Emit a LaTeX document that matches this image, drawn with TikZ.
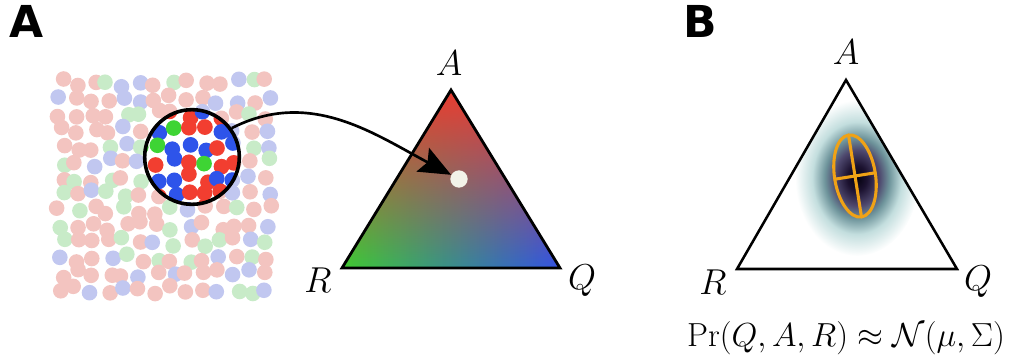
\RequirePackage{fix-cm}
\documentclass[tikz,border=0pt]{standalone}
\usepackage{amsmath}
\usepackage{amssymb}
\usepackage{fontspec}
\newfontfamily\panelfont{DejaVu Sans}
\usetikzlibrary{arrows.meta,fadings}

\definecolor{paleR}{RGB}{243,196,192}
\definecolor{paleB}{RGB}{193,199,240}
\definecolor{paleG}{RGB}{200,235,200}
\definecolor{fullR}{RGB}{242,62,48}
\definecolor{fullB}{RGB}{46,84,234}
\definecolor{fullG}{RGB}{62,212,52}
\definecolor{vertR}{RGB}{235,60,48}
\definecolor{vertG}{RGB}{62,204,50}
\definecolor{vertB}{RGB}{50,82,230}
\definecolor{mixdot}{RGB}{242,242,232}
\definecolor{covorange}{RGB}{240,162,22}
\definecolor{blobA}{RGB}{4,2,14}
\definecolor{blobB}{RGB}{28,18,48}
\definecolor{blobC}{RGB}{78,72,110}
\definecolor{blobD}{RGB}{110,148,155}
\definecolor{blobE}{RGB}{195,222,222}

\tikzfading[name=redfade, top color=transparent!0, bottom color=transparent!100]
\pgfdeclareradialshading{gaussblob}{\pgfpointorigin}{%
  color(0bp)=(blobA); color(4bp)=(blobB); color(9bp)=(blobC);
  color(13bp)=(blobD); color(18bp)=(blobE); color(25bp)=(white); color(50bp)=(white)}

% one jittered cloud of dots, #1 = pale or full
\newcommand\dotcloud[1]{%
  \pgfmathsetseed{31}%
  \foreach \i in {0,...,13}{%
    \foreach \j in {0,...,13}{%
      \pgfmathsetmacro\dx{61+15.9*\i+4.5*rand}%
      \pgfmathsetmacro\dy{83+15.9*\j+4.5*rand}%
      \pgfmathsetmacro\pick{rnd}%
      \ifdim\pick pt<0.48pt \def\dc{R}\else\ifdim\pick pt<0.82pt \def\dc{B}\else\def\dc{G}\fi\fi
      \fill[#1\dc] (\dx,-\dy) circle (7.8);
    }}}

\begin{document}
\begin{tikzpicture}[x=0.75pt,y=0.75pt,
    vlabel/.style={font=\fontsize{27}{32}\selectfont, inner sep=0pt},
    panel/.style={font=\panelfont\bfseries\fontsize{33}{36}\selectfont, anchor=base west, inner sep=0pt},
    lens/.style={circle, draw, line width=2.7pt, minimum size=71pt, inner sep=0pt},
    simplex/.style={line width=2.1pt, line join=miter}]
  \useasboundingbox (0,0) rectangle (1011,-363);

  % panel A
  \node[panel] (pA) at (9,-38) {A};
  \dotcloud{pale}
  \begin{scope}
    \clip (192,-157) circle (47.5);
    \dotcloud{full}
  \end{scope}
  \node[lens] (lens) at (192,-157) {};

  \coordinate (tA) at (451,-90);
  \coordinate (tR) at (342,-268);
  \coordinate (tQ) at (560,-268);
  \shade[left color=vertG, right color=vertB] (tA) -- (tR) -- (tQ) -- cycle;
  \fill[vertR, path fading=redfade] (tA) -- (tR) -- (tQ) -- cycle;
  \draw[simplex] (tA) -- (tR) -- (tQ) -- cycle;
  \node[vlabel] (lA) at (449,-63) {$A$};
  \node[vlabel] (lR) at (318,-280) {$R$};
  \node[vlabel] (lQ) at (582,-281) {$Q$};
  \node[circle, fill=mixdot, minimum size=13pt, inner sep=0pt] (mix) at (459,-179) {};
  \draw[line width=2pt, -{Stealth[length=24pt, width=20pt, inset=4pt]}]
    (lens.36) to[out=27,in=152] (mix.152);

  % panel B
  \node[panel] (pB) at (683,-38) {B};
  \coordinate (bA) at (846,-80);
  \coordinate (bR) at (737,-269);
  \coordinate (bQ) at (957,-269);
  \begin{scope}
    \clip (bA) -- (bR) -- (bQ) -- cycle;
    \shade[shading=gaussblob] (857,-178) ellipse [x radius=62, y radius=78];
  \end{scope}
  \draw[line width=1.9pt, line join=miter] (bA) -- (bR) -- (bQ) -- cycle;
  \begin{scope}[shift={(855,-176)}, rotate=9, covorange, line width=2.3pt]
    \draw (0,0) ellipse [x radius=20.5, y radius=41.5];
    \draw (0,-41.5) -- (0,41.5);
    \draw (-20.5,0) -- (20.5,0);
  \end{scope}
  \node[vlabel] (mA) at (846,-52) {$A$};
  \node[vlabel] (mR) at (713,-282) {$R$};
  \node[vlabel] (mQ) at (978,-282) {$Q$};
  \node[font=\fontsize{25}{30}\selectfont] (law) at (846,-338)
    {$\Pr(Q,A,R)\approx\mathcal{N}(\mu,\Sigma)$};
\end{tikzpicture}
\end{document}
